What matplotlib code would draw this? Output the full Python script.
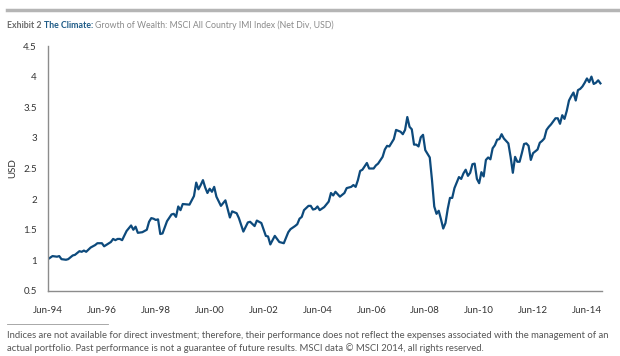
import matplotlib
matplotlib.use("Agg")
import matplotlib.pyplot as plt
import numpy as np

# months after Jun-94 and index value (growth of $1)
months = [0, 2, 4, 5, 6, 8, 9, 11, 12, 14, 15, 16, 17, 19, 21, 22, 24, 25, 28, 29,
          30, 31, 32, 33, 35, 37, 38, 39, 40, 42, 44, 45, 46, 47, 48, 49, 50, 51, 53, 55,
          56, 57, 58, 59, 60, 63, 65, 66, 67, 68, 69, 70, 71, 72, 73, 74, 75, 77, 79, 81,
          82, 84, 85, 87, 89, 90, 92, 93, 95, 97, 98, 99, 101, 103, 105, 107, 108, 110, 111, 112,
          113, 114, 116, 117, 118, 119, 120, 121, 123, 125, 126, 127, 128, 130, 132, 133, 135, 136, 137, 138,
          139, 140, 142, 143, 145, 146, 147, 149, 150, 151, 152, 154, 155, 157, 158, 159, 160, 161, 162, 163,
          164, 165, 166, 167, 168, 169, 170, 171, 172, 173, 174, 175, 176, 177, 178, 179, 180, 181, 183, 184,
          185, 186, 187, 188, 189, 190, 191, 192, 193, 194, 195, 196, 197, 198, 199, 200, 201, 202, 203, 205,
          206, 207, 208, 209, 210, 211, 212, 213, 214, 215, 216, 218, 219, 220, 221, 222, 223, 224, 226, 227,
          228, 229, 230, 231, 232, 233, 234, 235, 236, 237, 238, 239, 240, 241, 242, 243, 244, 245, 246]
usd = [1.02, 1.07, 1.06, 1.07, 1.02, 1.01, 1.02, 1.08, 1.09, 1.15, 1.14, 1.16, 1.14, 1.21, 1.25, 1.28, 1.28, 1.23, 1.30, 1.35,
       1.33, 1.35, 1.35, 1.33, 1.48, 1.57, 1.50, 1.55, 1.45, 1.46, 1.50, 1.63, 1.69, 1.68, 1.66, 1.67, 1.43, 1.44, 1.64, 1.75,
       1.76, 1.71, 1.88, 1.82, 1.92, 1.91, 2.05, 2.27, 2.16, 2.23, 2.31, 2.19, 2.10, 2.17, 2.12, 2.20, 2.04, 1.89, 1.98, 1.70,
       1.80, 1.77, 1.69, 1.47, 1.62, 1.63, 1.56, 1.65, 1.61, 1.40, 1.39, 1.26, 1.40, 1.30, 1.28, 1.46, 1.51, 1.56, 1.59, 1.68,
       1.71, 1.82, 1.89, 1.89, 1.83, 1.84, 1.88, 1.82, 1.87, 1.96, 2.10, 2.06, 2.12, 2.04, 2.10, 2.18, 2.20, 2.23, 2.20, 2.31,
       2.46, 2.48, 2.59, 2.50, 2.50, 2.55, 2.58, 2.69, 2.81, 2.87, 2.86, 2.98, 3.13, 3.10, 3.06, 3.13, 3.34, 3.18, 3.14, 2.89,
       2.89, 2.86, 3.01, 3.05, 2.80, 2.74, 2.68, 2.31, 1.88, 1.76, 1.81, 1.67, 1.52, 1.61, 1.84, 2.02, 2.02, 2.18, 2.36, 2.33,
       2.42, 2.48, 2.38, 2.43, 2.57, 2.58, 2.33, 2.26, 2.44, 2.37, 2.64, 2.68, 2.65, 2.83, 2.88, 2.97, 2.98, 3.06, 2.99, 2.91,
       2.69, 2.43, 2.69, 2.61, 2.61, 2.75, 2.90, 2.91, 2.87, 2.64, 2.75, 2.81, 2.92, 2.95, 2.99, 3.13, 3.18, 3.22, 3.32, 3.32,
       3.23, 3.37, 3.31, 3.44, 3.61, 3.68, 3.74, 3.61, 3.78, 3.80, 3.84, 3.90, 3.97, 3.91, 4.00, 3.88, 3.90, 3.94, 3.89]

tick_months = [0, 24, 48, 72, 96, 120, 144, 168, 192, 216, 240]
tick_labels = ["Jun-94", "Jun-96", "Jun-98", "Jun-00", "Jun-02", "Jun-04",
               "Jun-06", "Jun-08", "Jun-10", "Jun-12", "Jun-14"]
y_ticks = [0.5, 1, 1.5, 2, 2.5, 3, 3.5, 4, 4.5]

plt.rcParams['font.family'] = ['Lato', 'DejaVu Sans']

fig = plt.figure(figsize=(6.2, 3.56), dpi=100)
ax = fig.add_axes([48/620, 65/356, 554/620, 245/356])

ax.plot(months, usd, color="#0d4a7c", lw=1.6, solid_joinstyle="round")
ax.set_xlim(0, 246.7)
ax.set_ylim(0.5, 4.5)
ax.set_xticks(tick_months)
ax.set_xticklabels(tick_labels)
ax.set_yticks(y_ticks)
ax.set_yticklabels([f"{v:g}" for v in y_ticks])
ax.tick_params(length=0, labelsize=7, colors="#333333")
ax.tick_params(axis="x", pad=11)
ax.tick_params(axis="y", pad=8)
ax.set_ylabel("USD", fontsize=7, color="#333333", labelpad=4)
for s in ["top", "right"]:
    ax.spines[s].set_visible(False)
for s in ["left", "bottom"]:
    ax.spines[s].set_color("#8c8c8c")
    ax.spines[s].set_linewidth(1.0)

# header rule and title
fig.add_artist(plt.Line2D([7/620, 1], [1 - 10/356] * 2, color="#b5b5b5", lw=2.5))
renderer = fig.canvas.get_renderer()
pieces = [("Exhibit 2 ", "#6b6b6b", "bold"),
          ("The Climate: ", "#1d5a86", "bold"),
          ("Growth of Wealth: MSCI All Country IMI Index (Net Div, USD)", "#8a8a8a", "normal")]
x = 7
for txt, col, wt in pieces:
    t = fig.text(x/620, 1 - 25/356, txt, fontsize=6.3, color=col, weight=wt, va="center", ha="left")
    bb = t.get_window_extent(renderer)
    x = bb.x1

# footnote
fig.add_artist(plt.Line2D([7/620, 108/620], [1 - 324/356] * 2, color="#9a9a9a", lw=0.6))
fig.text(7/620, 1 - 335/356,
         "Indices are not available for direct investment; therefore, their performance does not reflect "
         "the expenses associated with the management of an",
         fontsize=6.8, color="#555555", va="center")
fig.text(7/620, 1 - 348/356,
         "actual portfolio. Past performance is not a guarantee of future results. MSCI data \u00a9 MSCI 2014, "
         "all rights reserved.",
         fontsize=6.8, color="#555555", va="center")

fig.savefig("out.png", dpi=100)
